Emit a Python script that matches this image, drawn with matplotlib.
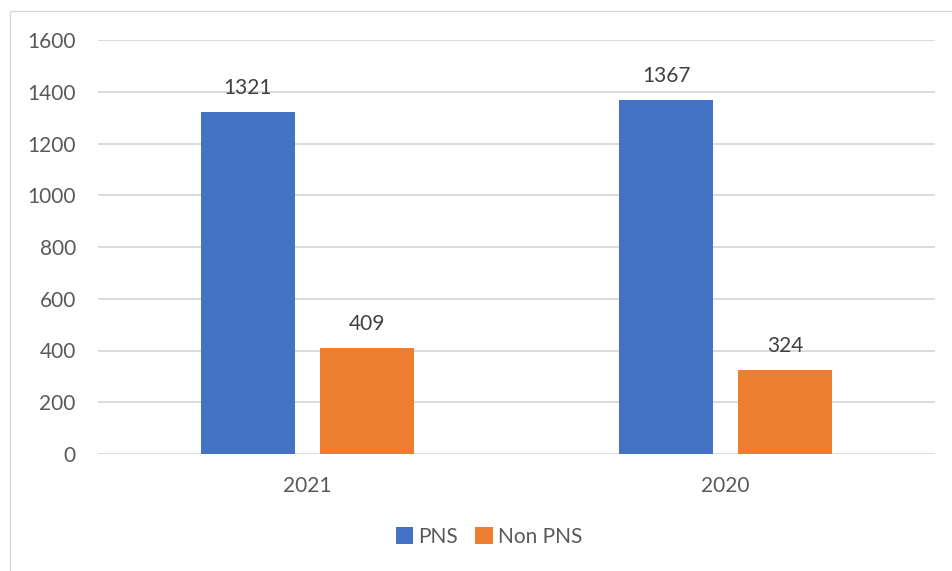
import matplotlib
matplotlib.use("Agg")
import matplotlib.pyplot as plt
from matplotlib.patches import Rectangle
import numpy as np

years = ['2021', '2020']
pns = [1321, 1367]
non_pns = [409, 324]
series_names = ['PNS', 'Non PNS']
y_ticks = [0, 200, 400, 600, 800, 1000, 1200, 1400, 1600]

blue = '#4472C4'
orange = '#ED7D31'
grid_col = '#D9D9D9'
txt_col = '#595959'

plt.rcParams['font.family'] = ['Lato', 'DejaVu Sans']

W, H = 952, 571
fig = plt.figure(figsize=(W / 100, H / 100), dpi=100)
ax = fig.add_axes([98 / W, 1 - 454 / H, (935 - 98) / W, (454 - 40) / H])

# chart area border (cropped on the right and bottom)
fig.patches.append(Rectangle((10 / W, -0.2), 1.2, 1.2 - 11 / H + 0.0, transform=fig.transFigure,
                             fill=False, edgecolor=grid_col, linewidth=1.0))

x = np.arange(len(years))
bw = 0.2246
off = 0.1416
b1 = ax.bar(x - off, pns, bw, color=blue, label=series_names[0], zorder=3)
b2 = ax.bar(x + off, non_pns, bw, color=orange, label=series_names[1], zorder=3)

for bars in (b1, b2):
    for rect in bars:
        h = rect.get_height()
        ax.annotate(str(int(h)), (rect.get_x() + rect.get_width() / 2, h),
                    xytext=(0, 13), textcoords='offset points',
                    ha='center', va='baseline', fontsize=15, color='#404040')

ax.set_xlim(-0.5, 1.5)
ax.set_ylim(0, 1600)
ax.set_yticks(y_ticks)
ax.set_xticks(x)
ax.set_xticklabels(years)
ax.tick_params(axis='y', length=0, pad=16, labelsize=15, labelcolor=txt_col)
ax.tick_params(axis='x', length=0, pad=16, labelsize=15, labelcolor=txt_col)
ax.yaxis.grid(True, color=grid_col, linewidth=1.3)
ax.set_axisbelow(True)
for s in ax.spines.values():
    s.set_visible(False)

leg = fig.legend(handles=[b1, b2], labels=series_names, loc='center',
                 bbox_to_anchor=(489 / W, 1 - 537 / H), ncol=2, frameon=False,
                 fontsize=15, handlelength=0.85, handleheight=0.9,
                 handletextpad=0.25, columnspacing=0.8)
for t in leg.get_texts():
    t.set_color(txt_col)

fig.savefig('out.png', dpi=100)
